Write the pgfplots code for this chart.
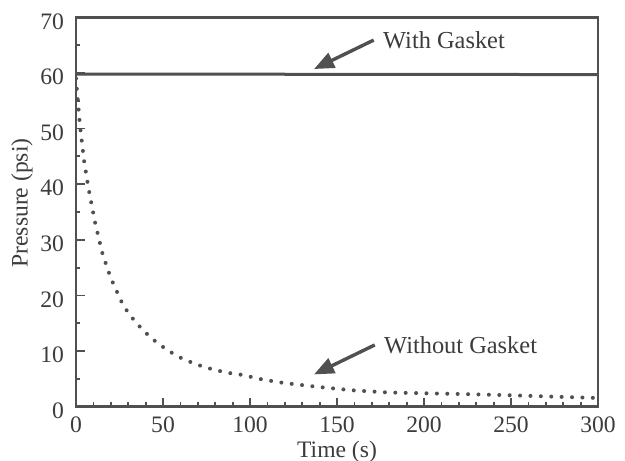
\documentclass[border=0pt]{standalone}
\usepackage{pgfplots}
\pgfplotsset{compat=1.18}
\usepackage{fontspec}
\setmainfont{Liberation Serif}
\usetikzlibrary{arrows.meta}
\definecolor{ink}{RGB}{80,80,80}
\definecolor{txt}{RGB}{60,60,60}
\begin{document}
\begin{tikzpicture}
\begin{axis}[
  name=ax,
  scale only axis,
  width=261pt, height=194.7pt,
  xmin=0, xmax=300, ymin=0, ymax=70,
  xtick={0,50,...,300}, ytick={0,10,...,70},
  minor x tick num=4, minor y tick num=1,
  xtick pos=bottom, ytick pos=left,
  tick align=inside,
  major tick length=4.5pt, minor tick length=2.2pt,
  axis line style={ink, line width=1.4pt},
  every tick/.style={ink, line width=0.9pt},
  tick label style={font=\fontsize{11.8}{13}\selectfont, text=txt},
  /pgf/number format/assume math mode=true,
  xticklabel style={yshift=-1.5pt},
  yticklabel style={xshift=-2.5pt, yshift=-2pt},
  label style={font=\fontsize{11.8}{13}\selectfont, text=txt},
  xlabel={Time (s)},
  xlabel style={at={(axis description cs:0.5,-0.1315)}, anchor=base},
  ylabel={Pressure (psi)},
  ylabel style={at={(axis description cs:-0.1034,0.523)}, anchor=center},
  clip=true,
]
% With gasket
\addplot[ink, line width=1.5pt] coordinates {(0,59.8) (300,59.7)};
% Without gasket
\addplot[ink, line width=2pt, line cap=round, dash pattern=on 0pt off 5.2pt] coordinates {
(0,59) (0.5,57) (1,55.2) (1.5,53.4) (2.3,50.5) (3.6,47) (4.6,44.3) (6.1,41.3)
(7.6,38.6) (9.0,36.3) (10.9,33.2) (13.3,30) (15.3,27.4) (17.6,25.3) (19.9,23.2)
(23.9,20.4) (27.3,18.1) (33.2,15.6) (38.9,13.6) (45.8,11.7) (52.8,10.1) (60.7,8.7)
(69.1,7.6) (78.6,6.7) (87,6.1) (95.8,5.7) (107,4.9) (118.7,4.3) (137.8,3.6)
(158.7,2.95) (179.7,2.55) (202.6,2.4) (225,2.25) (250,2.05) (275,1.8) (296,1.6) (300,1.55)
};
\draw[ink, line width=1.7pt, -{Triangle[length=10pt,width=8pt]}] (axis cs:171.1,65.9) -- (axis cs:136.8,60.7);
\draw[ink, line width=1.7pt, -{Triangle[length=10pt,width=8pt]}] (axis cs:171.7,11.1) -- (axis cs:136.8,5.8);
\node[anchor=west, inner sep=0pt, text=txt, font=\fontsize{12.2}{13}\selectfont] at (axis cs:176.3,65.9) {With Gasket};
\node[anchor=west, inner sep=0pt, text=txt, font=\fontsize{12.2}{13}\selectfont] at (axis cs:176.9,11.1) {Without Gasket};
\end{axis}
\pgfresetboundingbox
\path ([xshift=-38pt,yshift=-27.15pt]ax.south west) rectangle ([xshift=13.5pt,yshift=8.65pt]ax.north east);
\end{tikzpicture}
\end{document}
